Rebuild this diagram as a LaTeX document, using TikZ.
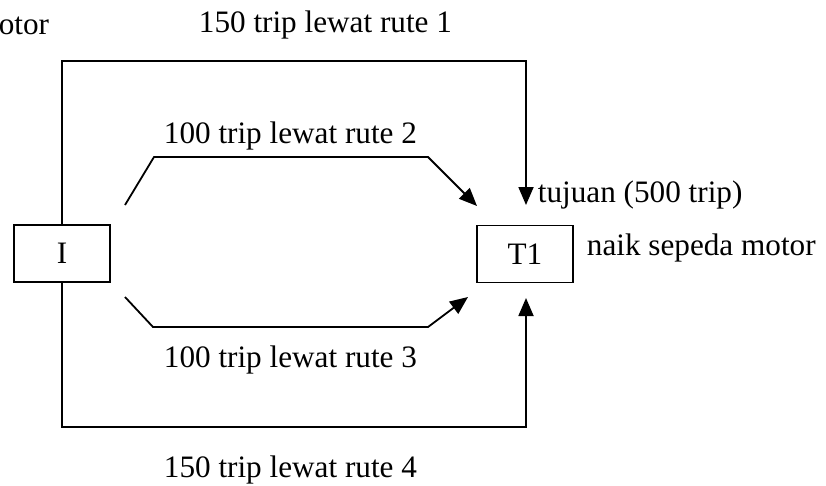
\documentclass[tikz,border=0pt]{standalone}
\usepackage{fontspec}
\setmainfont{Liberation Serif}
\usepackage{tikz}
\usetikzlibrary{arrows.meta}

\begin{document}
\begin{tikzpicture}[x=1pt,y=-1pt,line width=1.8pt,
  font=\fontsize{31.2}{36}\selectfont,
  zone/.style={draw,minimum width=96pt,minimum height=57pt,inner sep=0pt},
  txt/.style={inner sep=0pt,anchor=base west},
  route/.style={-{Triangle[length=18pt,width=15pt]}}]
\useasboundingbox (0,0) rectangle (826,485);
\draw 
(62,253.5) node[zone](I){I}
(525,254) node[zone](T1){T1}
;
\coordinate (r1a) at (62,61);
\coordinate (r1e) at (526,205);
\coordinate (r2s) at (125,205);
\coordinate (r2a) at (154,157);
\coordinate (r2b) at (428,157);
\coordinate (r2e) at (477,206);
\coordinate (r3s) at (125,297);
\coordinate (r3a) at (153,327);
\coordinate (r3b) at (428,327);
\coordinate (r3e) at (468,297);
\coordinate (r4a) at (62,427);
\coordinate (r4e) at (526,298);
% rute 1 dan 4 lewat luar
\draw[route](I.north)--(r1a)-|(r1e);
\draw[route](I.south)--(r4a)-|(r4e);
% rute 2 dan 3
\foreach \s/\a/\b/\e in {r2s/r2a/r2b/r2e, r3s/r3a/r3b/r3e}{
\draw[route](\s)--(\a)--(\b)--(\e);
}
\node[txt] (l1) at (198,32) {150 trip lewat rute 1};
\node[txt] (l2) at (163,143) {100 trip lewat rute 2};
\node[txt] (l3) at (163,367) {100 trip lewat rute 3};
\node[txt] (l4) at (163,477) {150 trip lewat rute 4};
\node[txt] (goal) at (537,202) {tujuan (500 trip)};
\node[txt] (mode) at (586,255) {naik sepeda motor};
\node[inner sep=0pt,anchor=base east] (cut) at (50,34) {otor};
\end{tikzpicture}
\end{document}
